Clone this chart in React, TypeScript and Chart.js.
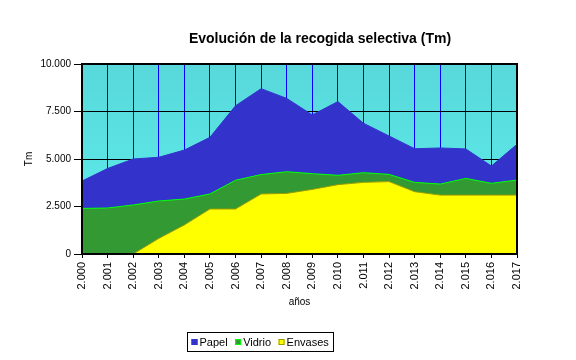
import React, { useEffect, useRef } from "react";
import { Chart, registerables } from "chart.js";

Chart.register(...registerables);

const years = ["2.000", "2.001", "2.002", "2.003", "2.004", "2.005", "2.006", "2.007", "2.008", "2.009", "2.010", "2.011", "2.012", "2.013", "2.014", "2.015", "2.016", "2.017"];
const envases = [0, 0, 0, 820, 1530, 2370, 2370, 3160, 3190, 3400, 3650, 3770, 3810, 3280, 3100, 3100, 3100, 3100];
const vidrio = [2400, 2420, 2580, 1970, 1360, 790, 1510, 1020, 1140, 830, 490, 510, 380, 490, 580, 880, 620, 790];
const papel = [1440, 2080, 2420, 2300, 2580, 2980, 3920, 4520, 3860, 3090, 3880, 2600, 2020, 1770, 1900, 1550, 910, 1880];

const titleText = "Evolución de la recogida selectiva (Tm)";
const xTitle = "años";
const yTitle = "Tm";

const FONT = "'Liberation Sans', Arial, sans-serif";

const legendItems = [
  { label: "Papel", fill: "#3333CC", stroke: "#3333CC" },
  { label: "Vidrio", fill: "#339933", stroke: "#00FF00" },
  { label: "Envases", fill: "#FFFF00", stroke: "#999900" },
];

const fmt = (v: number) => String(v).replace(/\B(?=(\d{3})+(?!\d))/g, ".");

const decorPlugin = {
  id: "decor",
  beforeDraw(chart: any) {
    const { ctx, chartArea: a } = chart;
    ctx.save();
    const g = ctx.createLinearGradient(0, a.top, 0, a.bottom);
    g.addColorStop(0, "#58D8DA");
    g.addColorStop(1, "#5EEEEE");
    ctx.fillStyle = g;
    ctx.fillRect(a.left, a.top, a.right - a.left, a.bottom - a.top);
    ctx.restore();
  },
  afterDatasetsDraw(chart: any) {
    const { ctx, chartArea: a } = chart;
    ctx.save();
    ctx.strokeStyle = "#000";
    ctx.lineWidth = 2;
    ctx.strokeRect(a.left, a.top, a.right - a.left, a.bottom - a.top);
    ctx.restore();
  },
  afterDraw(chart: any) {
    const { ctx } = chart;
    ctx.save();
    // title
    ctx.font = `bold 14px ${FONT}`;
    ctx.fillStyle = "#000";
    ctx.textAlign = "center";
    ctx.textBaseline = "middle";
    ctx.fillText(titleText, 320, 39);
    // legend
    ctx.font = `11px ${FONT}`;
    ctx.textAlign = "left";
    const boxL = 187, boxT = 332, boxW = 146, boxH = 19;
    ctx.strokeStyle = "#000";
    ctx.lineWidth = 1;
    ctx.strokeRect(boxL + 0.5, boxT + 0.5, boxW, boxH);
    let x = 191.5;
    const cy = boxT + boxH / 2 + 1;
    for (const it of legendItems) {
      ctx.fillStyle = it.fill;
      ctx.fillRect(x, cy - 3.5, 6, 6);
      ctx.strokeStyle = it.stroke;
      ctx.strokeRect(x + 0.5, cy - 3, 5, 5);
      ctx.fillStyle = "#000";
      ctx.fillText(it.label, x + 8, cy);
      x += 8 + ctx.measureText(it.label).width + 7.5;
    }
    ctx.restore();
  },
};

export default function App() {
  const ref = useRef<HTMLCanvasElement | null>(null);
  useEffect(() => {
    if (!ref.current) return;
    const chart = new Chart(ref.current, {
      type: "line",
      data: {
        labels: years,
        datasets: [
          { label: "Envases", data: envases, backgroundColor: "#FFFF00", borderColor: "#999900", borderWidth: 1, fill: "origin", pointRadius: 0, tension: 0 },
          { label: "Vidrio", data: vidrio, backgroundColor: "#339933", borderColor: "#00FF00", borderWidth: 1, fill: "-1", pointRadius: 0, tension: 0 },
          { label: "Papel", data: papel, backgroundColor: "#3333CC", borderColor: "#3333CC", borderWidth: 1, fill: "-1", pointRadius: 0, tension: 0 },
        ],
      },
      options: {
        responsive: false,
        animation: false,
        layout: { padding: { top: 64, right: 59, left: 0, bottom: 0 } },
        plugins: { legend: { display: false }, title: { display: false }, tooltip: { enabled: false } },
        scales: {
          x: {
            offset: false,
            afterFit: (s: any) => { s.height = 106; },
            grid: { color: "#0000FF", lineWidth: 1, tickColor: "#000", tickLength: 4, drawTicks: true },
            border: { display: false },
            ticks: { autoSkip: false, maxRotation: 90, minRotation: 90, padding: 4, color: "#000", font: { family: FONT, size: 11 } },
            title: { display: true, text: xTitle, color: "#000", font: { family: FONT, size: 10 }, padding: { top: 0, bottom: 52 } },
          },
          y: {
            stacked: true,
            min: 0,
            max: 10000,
            afterFit: (s: any) => { s.width = 82; },
            grid: { color: "#000", lineWidth: 1, tickColor: "#000", tickLength: 8 },
            border: { display: false },
            ticks: { stepSize: 2500, padding: 3, color: "#000", font: { family: FONT, size: 10 }, callback: (v: any) => fmt(Number(v)) },
            title: { display: true, text: yTitle, color: "#000", font: { family: FONT, size: 10 }, padding: { top: 23, bottom: 0 } },
          },
        },
      },
      plugins: [decorPlugin],
    });
    return () => chart.destroy();
  }, []);
  return (
    <div style={{ position: "absolute", left: 0, top: 0, width: 576, height: 360, background: "#fff" }}>
      <canvas ref={ref} width={576} height={360} style={{ width: 576, height: 360, display: "block" }} />
    </div>
  );
}
